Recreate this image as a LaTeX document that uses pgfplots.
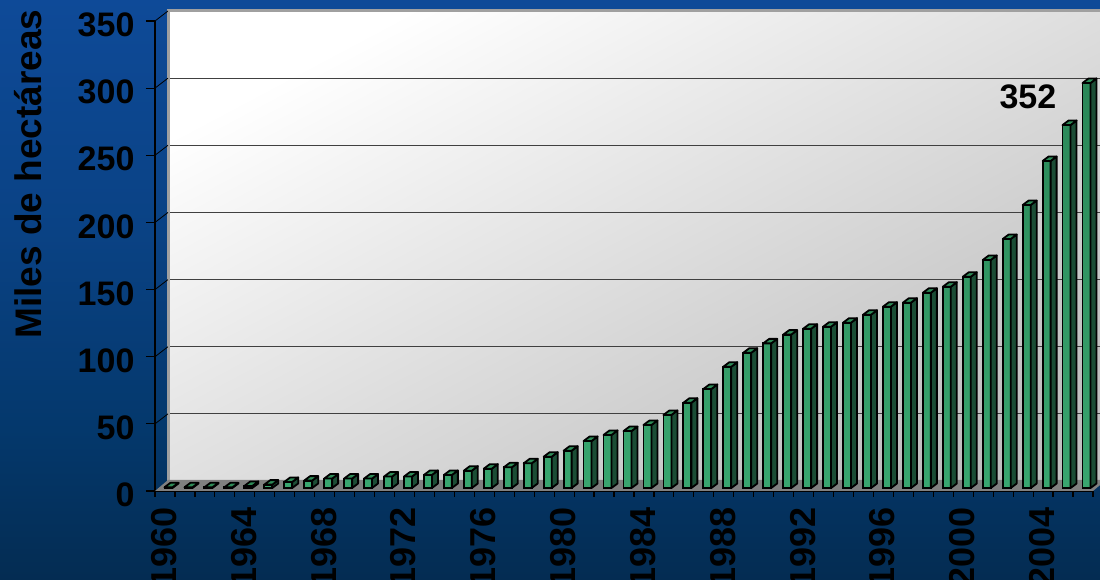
\documentclass[border=0pt]{standalone}
\usepackage{fontspec}
\setmainfont{Liberation Sans}
\usepackage{pgfplots}
\usepackage{pgfplotstable}
\pgfplotsset{compat=1.18}

\definecolor{bgtop}{HTML}{0E4A98}
\definecolor{bgmid}{HTML}{0A4284}
\definecolor{bglow}{HTML}{04386C}
\definecolor{bgend}{HTML}{042C52}
\definecolor{floorgray}{HTML}{808080}
\definecolor{wallgray}{HTML}{A0A0A0}
\definecolor{gridgray}{HTML}{404040}
\definecolor{bartop}{HTML}{2A8758}
\definecolor{barlow}{HTML}{39A56F}
\definecolor{barside}{HTML}{1B4D35}
\definecolor{barcap}{HTML}{2E8B57}

\pgfdeclareverticalshading{pagebg}{100bp}{color(0bp)=(bgend); color(25bp)=(bgend); color(38bp)=(bglow); color(55bp)=(bgmid); color(75bp)=(bgtop); color(100bp)=(bgtop)}
\pgfdeclareverticalshading{wallsh}{100bp}{color(0bp)=(black!25); color(25bp)=(black!25); color(75bp)=(white); color(100bp)=(white)}

% front face height of each bar
\pgfplotstableread{
year h
1960 0.5
1961 0.5
1962 0.5
1963 0.5
1964 1.5
1965 2.5
1966 4.5
1967 5.5
1968 7
1969 7
1970 7
1971 8.5
1972 8.5
1973 9.7
1974 9.7
1975 12.9
1976 14.4
1977 15.4
1978 18.4
1979 23.3
1980 27.8
1981 35
1982 39.5
1983 42.4
1984 46.9
1985 54.4
1986 63.5
1987 73.7
1988 90.3
1989 100.7
1990 107.7
1991 114.2
1992 118.6
1993 120.1
1994 123.1
1995 129
1996 135
1997 138
1998 145.4
1999 149.9
2000 157.3
2001 169.8
2002 185.4
2003 210.7
2004 243.5
2005 270.3
2006 301.6
}\datatable

\newcommand{\ticktxt}{\fontsize{34}{34}\selectfont\bfseries}
\newcommand{\xticktxt}{\fontsize{36}{36}\selectfont\bfseries}
\newcommand{\labeltxt}{\fontsize{37}{37}\selectfont\bfseries}

\pgfplotsset{
  chartframe/.style={
    at={(155pt,89pt)}, anchor=origin, scale only axis,
    width=938pt, height=470pt,
    xmin=1959.5, xmax=2006.5, ymin=0, ymax=350,
    clip=false,
  },
}

\begin{document}
\begin{tikzpicture}[x=1pt,y=1pt]
\path[use as bounding box, clip] (0,0) rectangle (1100,580);
\shade[shading=pagebg] (0,0) rectangle (1100,580);

% back wall with the gridlines
\begin{axis}[chartframe, xshift=13pt, yshift=10pt,
    axis line style={draw=none},
    xtick=\empty, ytick={50,100,...,300}, ymajorgrids,
    grid style={gridgray, line width=1.2pt},
    major tick length=0pt, yticklabels={},
    axis background/.style={shading=wallsh, shading angle=28},
  ]
  \draw[wallgray, line width=3pt] (rel axis cs:0,0) -- (rel axis cs:0,1) -- (rel axis cs:1,1);
\end{axis}

% scale, floor and tick labels
\begin{axis}[chartframe,
    axis x line*=bottom, axis y line*=left,
    axis line style={black, line width=1.2pt, -},
    ytick={0,50,...,350},
    xtick={1960,1964,...,2004},
    minor xtick={1959.5,1960.5,...,2006.5},
    x tick label style={/pgf/number format/1000 sep={}, font=\xticktxt, black, rotate=90, anchor=east, xshift=-4pt, yshift=1pt},
    y tick label style={font=\ticktxt, black, yshift=-4pt, xshift=-8pt},
    /pgf/number format/assume math mode=true,
    tick align=outside,
    major tick length=9pt, minor tick length=6pt,
    major x tick style={draw=none},
    major y tick style={black, line width=1.2pt},
    minor x tick style={black, line width=1.2pt},
    ylabel={Miles de hectáreas},
    ylabel style={at={(axis description cs:-0.135,0.674)}, anchor=center, font=\labeltxt, black},
  ]
  \fill[floorgray] (axis cs:1959.5,0) -- ++(13pt,11pt) -- ++(938pt,0pt) -- (axis cs:2006.5,0) -- cycle;
  \pgfplotsinvokeforeach{50,100,...,350}{
    \draw[black, line width=0.8pt] (axis cs:1959.5,#1) -- ++(13pt,10pt);
  }
  \node[font=\ticktxt, black] at (axis cs:2003.24,293.4) {352};
\end{axis}

% bars
\begin{axis}[chartframe, xshift=3.5pt, yshift=3pt, hide axis]
  \addplot[ybar, bar width=8pt, draw=black, line width=1.8pt,
    top color=bartop, bottom color=barlow] table[x=year, y=h] {\datatable};
  \addplot[scatter, only marks, mark=*, mark size=0pt,
    visualization depends on={rawy \as \hval},
    scatter/@pre marker code/.code={%
      \pgfkeys{/pgf/fpu=false}%
      \pgfmathsetmacro\hp{\hval*1.3429}%
      \filldraw[barside, draw=black, line width=1.8pt, line join=round]
        (4pt,0pt) -- (10pt,4.5pt) -- (10pt,4.5pt-\hp pt) -- (4pt,-\hp pt) -- cycle;
      \filldraw[barcap, draw=black, line width=1.8pt, line join=round]
        (-4pt,0pt) -- (2pt,4.5pt) -- (10pt,4.5pt) -- (4pt,0pt) -- cycle;
      \scope
    },
    scatter/@post marker code/.code={\endscope},
  ] table[x=year, y=h] {\datatable};
\end{axis}
\end{tikzpicture}
\end{document}
